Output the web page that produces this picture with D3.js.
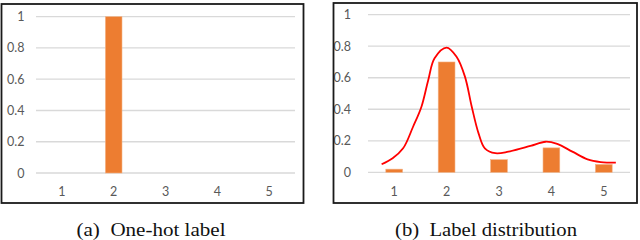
<!DOCTYPE html>
<html>
<head>
<meta charset="utf-8">
<script src="https://cdn.jsdelivr.net/npm/d3@7"></script>
<style>
  body { margin: 0; background: #fff; }
  svg { display: block; }
</style>
</head>
<body>
<div id="chart"></div>
<script>
const categories = ['1', '2', '3', '4', '5'];
const yTicks = [0, 0.2, 0.4, 0.6, 0.8, 1];
const oneHotValues = [0, 1, 0, 0, 0];
const distValues = [0.02, 0.70, 0.08, 0.155, 0.05];

// smoothed curve, x in category units (1..5)
const curveX = [0.76, 0.97, 1.17, 1.36, 1.52, 1.65, 1.77, 2.0, 2.19, 2.35, 2.48, 2.61, 2.73, 2.93, 3.18, 3.6, 3.89, 4.11, 4.4, 4.69, 4.94, 5.23];
const curveY = [0.051, 0.089, 0.152, 0.289, 0.416, 0.586, 0.723, 0.791, 0.733, 0.607, 0.416, 0.247, 0.152, 0.121, 0.131, 0.167, 0.194, 0.18, 0.131, 0.082, 0.065, 0.061];

const captions = ['(a)  One-hot label', '(b)  Label distribution'];

const width = 640;
const height = 240;

const svg = d3.select('#chart').append('svg')
  .attr('width', width)
  .attr('height', height);

const panels = [
  {
    box: [1.5, 4, 302, 199], plotX: [36, 295], plotY: [173, 16.7], labelX: 24.5,
    values: oneHotValues, caption: captions[0], captionX: 151, captionW: 149,
  },
  {
    box: [333.5, 3, 303.5, 200], plotX: [368, 630], plotY: [172.3, 14.7], labelX: 351,
    values: distValues, caption: captions[1], captionX: 486, captionW: 182, curve: true,
  },
];

const tickFont = '12.5px Lato, "Open Sans", sans-serif';

function drawPanel(p) {
  const g = svg.append('g');

  const x = d3.scaleBand().domain(categories).range(p.plotX);
  const y = d3.scaleLinear().domain([0, 1]).range(p.plotY);

  // gridlines
  g.append('g').selectAll('line')
    .data(yTicks)
    .enter()
    .append('line')
    .attr('x1', p.plotX[0])
    .attr('x2', p.plotX[1])
    .attr('y1', d => y(d))
    .attr('y2', d => y(d))
    .attr('stroke', '#d9d9d9')
    .attr('stroke-width', 1.3);

  // y tick labels
  g.append('g').selectAll('text')
    .data(yTicks)
    .enter()
    .append('text')
    .attr('x', p.labelX)
    .attr('y', d => y(d) + 4.5)
    .attr('text-anchor', 'end')
    .style('font', tickFont)
    .style('fill', '#595959')
    .text(d => d);

  // x tick labels
  g.append('g').selectAll('text')
    .data(categories)
    .enter()
    .append('text')
    .attr('x', d => x(d) + x.bandwidth() / 2)
    .attr('y', 195.5)
    .attr('text-anchor', 'middle')
    .style('font', tickFont)
    .style('fill', '#595959')
    .text(d => d);

  // bars
  const barW = x.bandwidth() * 0.32;
  g.append('g').selectAll('rect')
    .data(p.values)
    .enter()
    .append('rect')
    .attr('x', (d, i) => x(categories[i]) + (x.bandwidth() - barW) / 2)
    .attr('y', d => y(d))
    .attr('width', barW)
    .attr('height', d => y(0) - y(d))
    .attr('fill', '#ed7d31')
    .attr('stroke', '#f4b183')
    .attr('stroke-width', 0.6);

  if (p.curve) {
    const xc = d3.scaleLinear()
      .domain([1, 5])
      .range([x('1') + x.bandwidth() / 2, x('5') + x.bandwidth() / 2]);
    const line = d3.line()
      .x((d, i) => xc(curveX[i]))
      .y(d => y(d))
      .curve(d3.curveCatmullRom);
    g.append('path')
      .attr('d', line(curveY))
      .attr('fill', 'none')
      .attr('stroke', '#ff0000')
      .attr('stroke-width', 1.8);
  }

  // frame
  g.append('rect')
    .attr('x', p.box[0])
    .attr('y', p.box[1])
    .attr('width', p.box[2])
    .attr('height', p.box[3])
    .attr('fill', 'none')
    .attr('stroke', '#1a1a1a')
    .attr('stroke-width', 1.8);

  // caption, stretched to the printed width
  svg.append('text')
    .attr('x', p.captionX)
    .attr('y', 236)
    .attr('text-anchor', 'middle')
    .style('font', '19px "Liberation Serif", "DejaVu Serif", serif')
    .attr('xml:space', 'preserve')
    .attr('textLength', p.captionW)
    .attr('lengthAdjust', 'spacingAndGlyphs')
    .style('fill', '#111')
    .text(p.caption);
}

panels.forEach(drawPanel);
</script>
</body>
</html>
